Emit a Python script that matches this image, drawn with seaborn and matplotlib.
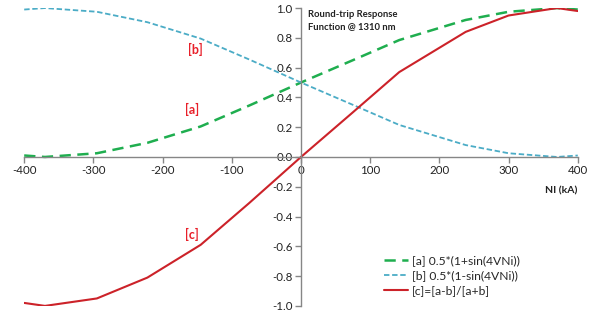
import matplotlib
matplotlib.use("Agg")
import matplotlib.pyplot as plt
import seaborn as sns
import pandas as pd

sns.set_theme(style="white")
plt.rcParams['font.family'] = ['Lato', 'DejaVu Sans']
plt.rcParams['axes.unicode_minus'] = False

# Values
ni_ka = [-400, -370, -295, -222, -145, -75, 0, 75, 142, 238, 300, 370, 400]
resp_a = [0.01, 0.0, 0.025, 0.095, 0.205, 0.345, 0.5, 0.65, 0.785, 0.92, 0.975, 1.0, 0.99]
resp_b = [0.99, 1.0, 0.975, 0.905, 0.795, 0.655, 0.5, 0.35, 0.215, 0.08, 0.025, 0.0, 0.01]
resp_c = [-0.98, -1.0, -0.95, -0.81, -0.59, -0.31, 0.0, 0.30, 0.57, 0.84, 0.95, 1.0, 0.98]

df = pd.DataFrame({"ni": ni_ka, "a": resp_a, "b": resp_b, "c": resp_c})

green = "#1fae4f"
blue = "#4bacc6"
red = "#cc2229"

fig = plt.figure(figsize=(6.05, 3.22), dpi=100)
ax = fig.add_axes([0.04, 0.05, 0.915, 0.925])

sns.lineplot(data=df, x="ni", y="a", ax=ax, color=green, lw=1.8, sort=False,
             linestyle=(0, (4.5, 2.6)), label="[a] 0.5*(1+sin(4VNi))")
sns.lineplot(data=df, x="ni", y="b", ax=ax, color=blue, lw=1.3, sort=False,
             linestyle=(0, (3, 1.5)), label="[b] 0.5*(1-sin(4VNi))")
sns.lineplot(data=df, x="ni", y="c", ax=ax, color=red, lw=1.5, sort=False,
             label="[c]=[a-b]/[a+b]")

ax.set_xlim(-400, 400)
ax.set_ylim(-1.0, 1.0)
ax.set_xticks(range(-400, 401, 100))
ax.set_yticks([-1.0, -0.8, -0.6, -0.4, -0.2, 0.0, 0.2, 0.4, 0.6, 0.8, 1.0])
ax.set_yticklabels([f"{v:.1f}" for v in ax.get_yticks()])

for s in ["top", "right"]:
    ax.spines[s].set_visible(False)
ax.spines["left"].set_position(("data", 0))
ax.spines["bottom"].set_position(("data", 0))
for s in ["left", "bottom"]:
    ax.spines[s].set_color("#868686")
    ax.spines[s].set_linewidth(1.0)
ax.tick_params(axis="both", which="both", direction="out", length=4, width=1,
               color="#868686", labelsize=8.3, labelcolor="#222222", pad=2)
ax.tick_params(axis="both", bottom=True, left=True)
ax.set_xlabel("")
ax.set_ylabel("")
ax.patch.set_alpha(0)

ax.text(10, 0.985, "Round-trip Response\nFunction @ 1310 nm", fontsize=6.8,
        fontweight="bold", va="top", ha="left", color="#222222", linespacing=1.4)
ax.text(400, -0.23, "NI (kA)", fontsize=7.5, fontweight="bold", ha="right",
        va="center", color="#222222")
ax.text(-158, 0.29, "[a]", color="#e8202a", fontsize=9, fontweight="bold", ha="center")
ax.text(-152, 0.69, "[b]", color="#e8202a", fontsize=9, fontweight="bold", ha="center")
ax.text(-157, -0.55, "[c]", color="#e8202a", fontsize=9, fontweight="bold", ha="center")

ax.legend(loc="lower left", bbox_to_anchor=(0.63, -0.005), frameon=False,
          fontsize=8.7, handlelength=2.0, handletextpad=0.3, labelspacing=0.33)

fig.savefig("out.png", dpi=100)
